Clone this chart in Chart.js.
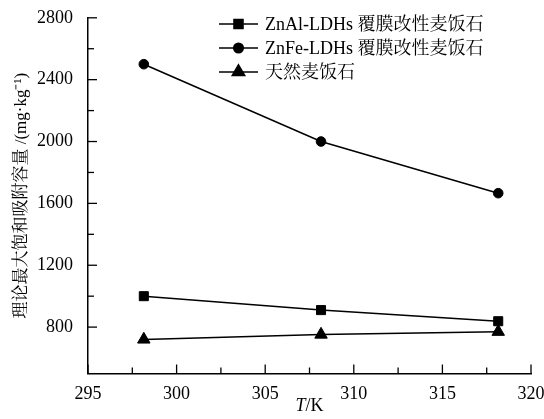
<!DOCTYPE html>
<html lang="zh">
<head>
    <meta charset="UTF-8">
    <title>理论最大饱和吸附容量</title>
    <script src="https://cdn.jsdelivr.net/npm/chart.js"></script>
    <style>
        body { margin: 0; background: #fff; }
        #box { width: 544px; height: 419px; }
    </style>
</head>
<body>
    <div id="box"><canvas id="chart"></canvas></div>

    <script>
        // temperatures (K) and capacities (mg/kg)
        const temps = [298.15, 308.15, 318.15];
        const znAl = [1000, 910, 838];
        const znFe = [2500, 2000, 1666];
        const natural = [720, 752, 770];
        const seriesNames = ['ZnAl-LDHs 覆膜改性麦饭石', 'ZnFe-LDHs 覆膜改性麦饭石', '天然麦饭石'];
        const xTicks = [295, 300, 305, 310, 315, 320];
        const yTicks = [800, 1200, 1600, 2000, 2400, 2800];

        const FONT = "'Liberation Serif', 'Times New Roman', 'Noto Serif CJK SC', 'Noto Sans CJK SC', serif";

        const pts = arr => arr.map((v, i) => ({ x: temps[i], y: v }));

        const styles = [
            { pointStyle: 'rect', pointRadius: 6.4 },
            { pointStyle: 'circle', pointRadius: 4.8 },
            { pointStyle: 'triangle', pointRadius: 7.2 }
        ];

        // inward ticks, legend and x title drawn by hand
        const extras = {
            id: 'extras',
            afterDraw(chart) {
                const ctx = chart.ctx;
                const a = chart.chartArea;
                ctx.save();
                ctx.strokeStyle = '#000';
                ctx.lineWidth = 1.3;

                const xs = chart.scales.x;
                xs.ticks.forEach(t => {
                    const px = xs.getPixelForValue(t.value);
                    const len = xTicks.includes(t.value) ? 9 : 6;
                    ctx.beginPath();
                    ctx.moveTo(px, a.bottom);
                    ctx.lineTo(px, a.bottom - len);
                    ctx.stroke();
                });
                const ys = chart.scales.y;
                ys.ticks.forEach(t => {
                    if (t.value % 200 !== 0) return;
                    const py = ys.getPixelForValue(t.value);
                    const len = yTicks.includes(t.value) ? 9 : 6;
                    ctx.beginPath();
                    ctx.moveTo(a.left, py);
                    ctx.lineTo(a.left + len, py);
                    ctx.stroke();
                });

                // legend
                ctx.font = '18px ' + FONT;
                ctx.textBaseline = 'middle';
                ctx.textAlign = 'left';
                chart.data.datasets.forEach((ds, i) => {
                    const y = 24 + i * 24;
                    ctx.strokeStyle = '#000';
                    ctx.lineWidth = 1.5;
                    ctx.beginPath();
                    ctx.moveTo(219, y);
                    ctx.lineTo(258, y);
                    ctx.stroke();
                    ctx.fillStyle = '#000';
                    Chart.helpers.drawPoint(ctx, {
                        pointStyle: ds.pointStyle, radius: ds.pointRadius,
                        rotation: 0, borderWidth: 1
                    }, 238.5, y);
                    ctx.fillStyle = '#000';
                    ctx.fillText(ds.label, 265, y + 1);
                });

                // x title: italic T, upright /K
                const cx = (a.left + a.right) / 2;
                ctx.font = 'italic 18px ' + FONT;
                const wT = ctx.measureText('T').width;
                ctx.font = '18px ' + FONT;
                const wK = ctx.measureText('/K').width;
                const x0 = cx - (wT + wK) / 2;
                ctx.textBaseline = 'middle';
                ctx.font = 'italic 18px ' + FONT;
                ctx.fillText('T', x0, 406);
                ctx.font = '18px ' + FONT;
                ctx.fillText('/K', x0 + wT, 406);
                ctx.restore();
            }
        };

        const ctx = document.getElementById('chart').getContext('2d');
        new Chart(ctx, {
            type: 'line',
            data: {
                datasets: [znAl, znFe, natural].map((arr, i) => ({
                    label: seriesNames[i],
                    data: pts(arr),
                    borderColor: '#000',
                    backgroundColor: '#000',
                    borderWidth: 1.5,
                    pointBorderWidth: 1,
                    pointStyle: styles[i].pointStyle,
                    pointRadius: styles[i].pointRadius,
                    tension: 0,
                    fill: false
                }))
            },
            options: {
                responsive: true,
                maintainAspectRatio: false,
                animation: false,
                layout: { padding: { top: 17, right: 0, left: 0, bottom: 0 } },
                plugins: {
                    legend: { display: false },
                    tooltip: { enabled: false }
                },
                scales: {
                    x: {
                        type: 'linear',
                        min: 295,
                        max: 320,
                        afterFit(s) { s.height = 45.5; s.paddingRight = 13; },
                        border: { display: true, color: '#000', width: 1.5 },
                        grid: { display: false },
                        ticks: {
                            stepSize: 2.5,
                            autoSkip: false,
                            maxRotation: 0,
                            padding: 2,
                            color: '#000',
                            font: { family: FONT, size: 18 },
                            callback: v => xTicks.includes(v) ? String(v) : ''
                        }
                    },
                    y: {
                        type: 'linear',
                        min: 500,
                        max: 2800,
                        afterFit(s) { s.width = 88; },
                        border: { display: true, color: '#000', width: 1.5 },
                        grid: { display: false },
                        title: {
                            display: true,
                            text: '理论最大饱和吸附容量 /(mg·kg⁻¹)',
                            color: '#000',
                            font: { family: FONT, size: 17 },
                            padding: { top: 11, bottom: 0 }
                        },
                        ticks: {
                            stepSize: 200,
                            autoSkip: false,
                            padding: 7,
                            color: '#000',
                            font: { family: FONT, size: 18 },
                            callback: v => yTicks.includes(v) ? String(v) : ''
                        }
                    }
                }
            },
            plugins: [extras]
        });
    </script>
</body>
</html>
